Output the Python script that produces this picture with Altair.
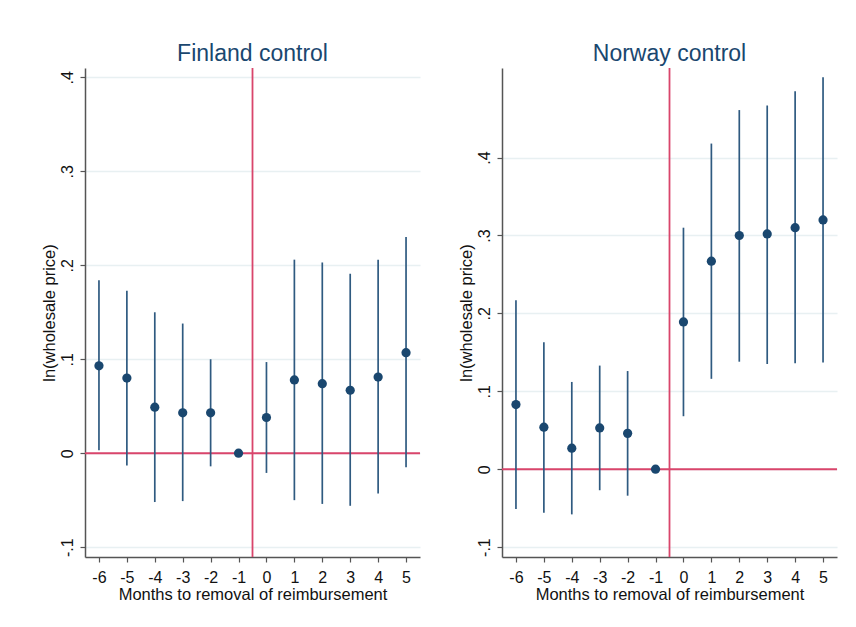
import altair as alt
import pandas as pd

months = [-6, -5, -4, -3, -2, -1, 0, 1, 2, 3, 4, 5]

fin_est = [0.093, 0.080, 0.049, 0.043, 0.043, 0.0, 0.038, 0.078, 0.074, 0.067, 0.081, 0.107]
fin_lo = [0.003, -0.013, -0.052, -0.051, -0.014, 0.0, -0.021, -0.050, -0.054, -0.056, -0.043, -0.015]
fin_hi = [0.184, 0.173, 0.150, 0.138, 0.100, 0.0, 0.097, 0.206, 0.203, 0.191, 0.206, 0.230]

nor_est = [0.083, 0.054, 0.027, 0.053, 0.046, 0.0, 0.189, 0.267, 0.300, 0.302, 0.310, 0.320]
nor_lo = [-0.051, -0.056, -0.058, -0.027, -0.034, 0.0, 0.068, 0.116, 0.138, 0.135, 0.136, 0.137]
nor_hi = [0.217, 0.163, 0.112, 0.133, 0.126, 0.0, 0.310, 0.418, 0.461, 0.467, 0.485, 0.503]

y_ticks = [-0.1, 0.0, 0.1, 0.2, 0.3, 0.4]
x_ticks = months
event_line = [-0.5]
zero_line = [0.0]

NAVY = "#1a476f"
CI = "#2f5a80"
RED = "#d9456b"
FONT = "Liberation Sans"

y_label_expr = ("datum.value == 0 ? '0' : (datum.value < 0 ? '-' : '') + "
                "replace(format(abs(datum.value), '.1f'), '0.', '.')")
x_label_expr = "(datum.value < 0 ? '-' : '') + format(abs(datum.value), 'd')"

xaxis = alt.Axis(values=x_ticks, grid=False, title="Months to removal of reimbursement",
                 labelExpr=x_label_expr, labelOverlap=False, labelFlush=False,
                 labelFontSize=16, titleFontSize=16.5, labelPadding=7, titlePadding=1,
                 tickSize=5, domainColor="#555555", tickColor="#555555",
                 labelColor="#111111", titleColor="#111111", labelFont=FONT, titleFont=FONT,
                 titleFontWeight="normal", domainWidth=1.5, tickWidth=1.2)
yaxis = alt.Axis(values=y_ticks, grid=True, gridColor="#e8f0f2", gridWidth=1.5,
                 title="ln(wholesale price)", labelExpr=y_label_expr,
                 labelOverlap=False, labelFlush=False,
                 labelAngle=270, labelAlign="center", labelBaseline="alphabetic",
                 labelFontSize=16, titleFontSize=16.5, labelPadding=8, titlePadding=2,
                 tickSize=5, domainColor="#555555", tickColor="#555555",
                 labelColor="#111111", titleColor="#111111", labelFont=FONT, titleFont=FONT,
                 titleFontWeight="normal", domainWidth=1.5, tickWidth=1.2)


def panel(title, est, lo, hi, ydom):
    df = pd.DataFrame({"m": months, "est": est, "lo": lo, "hi": hi})
    xs = alt.Scale(domain=[-6.5, 5.5], nice=False, zero=False)
    ys = alt.Scale(domain=ydom, nice=False, zero=False)
    base = alt.Chart(df)
    bars = base.mark_rule(color=CI, strokeWidth=1.7).encode(
        x=alt.X("m:Q", scale=xs, axis=xaxis),
        y=alt.Y("lo:Q", scale=ys, axis=yaxis),
        y2="hi:Q",
    )
    pts = base.mark_circle(color=NAVY, opacity=1, size=85).encode(
        x=alt.X("m:Q", scale=xs, axis=xaxis),
        y=alt.Y("est:Q", scale=ys, axis=yaxis),
    )
    hline = alt.Chart(pd.DataFrame({"y": zero_line})).mark_rule(color=RED, strokeWidth=2).encode(
        y=alt.Y("y:Q", scale=ys, axis=yaxis)
    )
    vline = alt.Chart(pd.DataFrame({"x": event_line})).mark_rule(color=RED, strokeWidth=1.8).encode(
        x=alt.X("x:Q", scale=xs, axis=xaxis)
    )
    return alt.layer(hline, vline, bars, pts).properties(
        width=335, height=489,
        title=alt.TitleParams(title, fontSize=23, font=FONT, color=NAVY, fontWeight="normal",
                              anchor="middle", frame="group", baseline="alphabetic", offset=-17),
    )


left = panel("Finland control", fin_est, fin_lo, fin_hi, [-0.1105, 0.41])
right = panel("Norway control", nor_est, nor_lo, nor_hi, [-0.1127, 0.515])

chart = alt.hconcat(left, right, spacing=36).properties(
    padding={"left": 33, "top": 35, "right": 5, "bottom": 5},
    background="white",
).configure_view(stroke=None)

chart.save("out.html", embed_options={"renderer": "svg", "actions": False})
